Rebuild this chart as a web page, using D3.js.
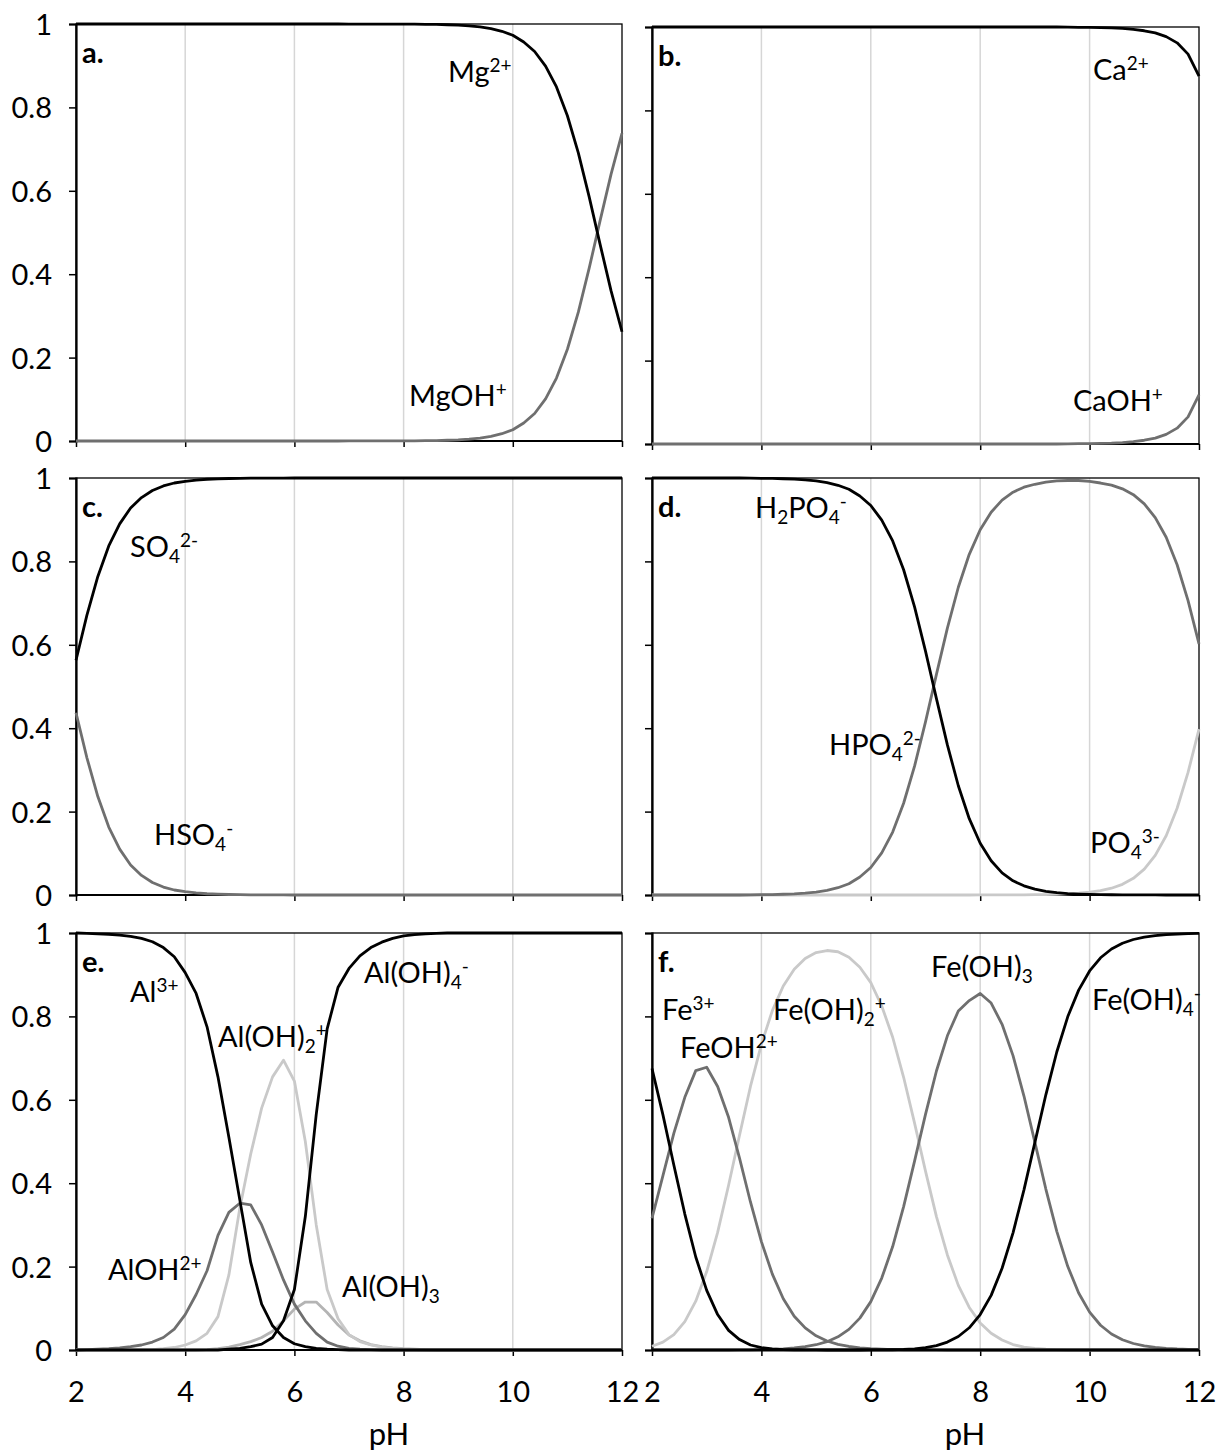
<!DOCTYPE html>
<html>
<head>
<meta charset="utf-8">
<script src="https://cdn.jsdelivr.net/npm/d3@7"></script>
<style>
  body { margin: 0; background: #fff; }
  text { font-family: Lato, "Open Sans", sans-serif; fill: #000; }
</style>
</head>
<body>
<script>
const WIDTH = 1217;
const HEIGHT = 1452;

// pH grid shared by every panel
const PH = [2, 2.2, 2.4, 2.6, 2.8, 3, 3.2, 3.4, 3.6, 3.8,
            4, 4.2, 4.4, 4.6, 4.8, 5, 5.2, 5.4, 5.6, 5.8,
            6, 6.2, 6.4, 6.6, 6.8, 7, 7.2, 7.4, 7.6, 7.8,
            8, 8.2, 8.4, 8.6, 8.8, 9, 9.2, 9.4, 9.6, 9.8,
            10, 10.2, 10.4, 10.6, 10.8, 11, 11.2, 11.4, 11.6, 11.8, 12];

const Y_TICKS = [0, 0.2, 0.4, 0.6, 0.8, 1];
const X_TICKS = [2, 4, 6, 8, 10, 12];
const GRID_X = [4, 6, 8, 10];

// a. magnesium
const MG = [1, 1, 1, 1, 1, 1, 1, 1, 1, 1,
            1, 1, 1, 1, 1, 1, 1, 1, 1, 1,
            1, 1, 1, 1, 1, 0.9999, 0.9999, 0.9999, 0.9999, 0.9998,
            0.9997, 0.9996, 0.9993, 0.9989, 0.9982, 0.9972, 0.9955, 0.993, 0.989, 0.9825,
            0.973, 0.957, 0.934, 0.899, 0.849, 0.78, 0.691, 0.585, 0.471, 0.36, 0.262];
const MGOH = [0, 0, 0, 0, 0, 0, 0, 0, 0, 0,
              0, 0, 0, 0, 0, 0, 0, 0, 0, 0,
              0, 0, 0, 0, 0, 0.0001, 0.0001, 0.0001, 0.0001, 0.0002,
              0.0003, 0.0004, 0.0007, 0.0011, 0.0018, 0.0028, 0.0045, 0.007, 0.011, 0.0175,
              0.027, 0.043, 0.066, 0.101, 0.151, 0.22, 0.309, 0.415, 0.529, 0.64, 0.738];

// b. calcium
const CA = [1, 1, 1, 1, 1, 1, 1, 1, 1, 1,
            1, 1, 1, 1, 1, 1, 1, 1, 1, 1,
            1, 1, 1, 1, 1, 1, 1, 1, 1, 1,
            1, 1, 1, 1, 1, 1, 1, 1, 0.9995, 0.9993,
            0.999, 0.9985, 0.9978, 0.9965, 0.9945, 0.991, 0.986, 0.977, 0.962, 0.935, 0.882];
const CAOH = [0, 0, 0, 0, 0, 0, 0, 0, 0, 0,
              0, 0, 0, 0, 0, 0, 0, 0, 0, 0,
              0, 0, 0, 0, 0, 0, 0, 0, 0, 0,
              0, 0, 0, 0, 0, 0, 0, 0, 0.0005, 0.0007,
              0.001, 0.0015, 0.0022, 0.0035, 0.0055, 0.009, 0.014, 0.023, 0.038, 0.065, 0.118];

// c. sulfate
const SO4 = [0.563, 0.671, 0.764, 0.837, 0.89, 0.928, 0.953, 0.97, 0.981, 0.988,
             0.992, 0.995, 0.997, 0.998, 0.9988, 0.9992, 0.9995, 0.9997, 0.9998, 0.9999,
             1, 1, 1, 1, 1, 1, 1, 1, 1, 1,
             1, 1, 1, 1, 1, 1, 1, 1, 1, 1,
             1, 1, 1, 1, 1, 1, 1, 1, 1, 1, 1];
const HSO4 = [0.437, 0.329, 0.236, 0.163, 0.11, 0.072, 0.047, 0.03, 0.019, 0.012,
              0.008, 0.005, 0.003, 0.002, 0.0012, 0.0008, 0.0005, 0.0003, 0.0002, 0.0001,
              0, 0, 0, 0, 0, 0, 0, 0, 0, 0,
              0, 0, 0, 0, 0, 0, 0, 0, 0, 0,
              0, 0, 0, 0, 0, 0, 0, 0, 0, 0, 0];

// d. phosphate
const H2PO4 = [1, 1, 1, 1, 1, 1, 1, 1, 1, 0.9999,
               0.9993, 0.9989, 0.9982, 0.9972, 0.9955, 0.993, 0.989, 0.9825, 0.973, 0.957,
               0.934, 0.899, 0.849, 0.78, 0.691, 0.585, 0.471, 0.36, 0.262, 0.183,
               0.124, 0.082, 0.053, 0.034, 0.022, 0.014, 0.0088, 0.0056, 0.0035, 0.0022,
               0.0014, 0.0009, 0.0006, 0.0004, 0.0002, 0.0001, 0.0001, 0, 0, 0, 0];
const HPO4 = [0, 0, 0, 0, 0, 0, 0, 0, 0, 0.0001,
              0.0007, 0.0011, 0.0018, 0.0028, 0.0045, 0.007, 0.011, 0.0175, 0.027, 0.043,
              0.066, 0.101, 0.151, 0.22, 0.309, 0.415, 0.529, 0.64, 0.738, 0.817,
              0.876, 0.918, 0.947, 0.966, 0.978, 0.985, 0.99, 0.993, 0.994, 0.994,
              0.992, 0.988, 0.983, 0.974, 0.96, 0.938, 0.905, 0.858, 0.792, 0.706, 0.602];
const PO4 = [0, 0, 0, 0, 0, 0, 0, 0, 0, 0,
             0, 0, 0, 0, 0, 0, 0, 0, 0, 0,
             0, 0, 0, 0, 0, 0, 0, 0, 0, 0,
             0.0001, 0.0002, 0.0003, 0.0004, 0.0005, 0.0007, 0.001, 0.0016, 0.0026, 0.0042,
             0.0066, 0.0104, 0.0163, 0.0256, 0.04, 0.062, 0.095, 0.142, 0.208, 0.294, 0.398];

// e. aluminium
const AL = [1, 0.999, 0.998, 0.997, 0.995, 0.992, 0.987, 0.979, 0.965, 0.943,
            0.905, 0.855, 0.775, 0.655, 0.51, 0.36, 0.21, 0.11, 0.058, 0.03,
            0.015, 0.008, 0.004, 0.002, 0.001, 0, 0, 0, 0, 0,
            0, 0, 0, 0, 0, 0, 0, 0, 0, 0,
            0, 0, 0, 0, 0, 0, 0, 0, 0, 0, 0];
const ALOH = [0, 0.001, 0.002, 0.003, 0.005, 0.008, 0.012, 0.019, 0.03, 0.05,
              0.085, 0.133, 0.19, 0.275, 0.33, 0.352, 0.348, 0.3, 0.235, 0.168,
              0.11, 0.07, 0.04, 0.019, 0.009, 0.004, 0.002, 0.001, 0, 0,
              0, 0, 0, 0, 0, 0, 0, 0, 0, 0,
              0, 0, 0, 0, 0, 0, 0, 0, 0, 0, 0];
const ALOH2 = [0, 0, 0, 0, 0, 0, 0, 0.001, 0.003, 0.006,
               0.012, 0.022, 0.04, 0.08, 0.18, 0.34, 0.47, 0.58, 0.655, 0.695,
               0.645, 0.5, 0.3, 0.145, 0.075, 0.037, 0.02, 0.012, 0.007, 0.004,
               0.002, 0.001, 0, 0, 0, 0, 0, 0, 0, 0,
               0, 0, 0, 0, 0, 0, 0, 0, 0, 0, 0];
const ALOH3 = [0, 0, 0, 0, 0, 0, 0, 0, 0, 0,
               0, 0, 0.001, 0.003, 0.007, 0.013, 0.02, 0.03, 0.045, 0.07,
               0.098, 0.115, 0.115, 0.09, 0.06, 0.036, 0.022, 0.013, 0.008, 0.005,
               0.003, 0.002, 0.001, 0, 0, 0, 0, 0, 0, 0,
               0, 0, 0, 0, 0, 0, 0, 0, 0, 0, 0];
const ALOH4 = [0, 0, 0, 0, 0, 0, 0, 0, 0, 0,
               0, 0, 0, 0, 0.002, 0.004, 0.008, 0.014, 0.03, 0.07,
               0.145, 0.32, 0.565, 0.77, 0.87, 0.915, 0.945, 0.965, 0.978, 0.987,
               0.993, 0.996, 0.998, 0.999, 1, 1, 1, 1, 1, 1,
               1, 1, 1, 1, 1, 1, 1, 1, 1, 1, 1];

// f. iron
const FE = [0.675, 0.564, 0.443, 0.326, 0.223, 0.143, 0.085, 0.047, 0.025, 0.012,
            0.0056, 0.0025, 0.001, 0.0004, 0.0002, 0.0001, 0, 0, 0, 0,
            0, 0, 0, 0, 0, 0, 0, 0, 0, 0,
            0, 0, 0, 0, 0, 0, 0, 0, 0, 0,
            0, 0, 0, 0, 0, 0, 0, 0, 0, 0, 0];
const FEOH = [0.316, 0.418, 0.52, 0.606, 0.67, 0.678, 0.632, 0.558, 0.46, 0.355,
              0.26, 0.182, 0.123, 0.081, 0.053, 0.034, 0.0215, 0.0135, 0.0084, 0.0052,
              0.0031, 0.0018, 0.001, 0.0006, 0.0003, 0.0002, 0.0001, 0, 0, 0,
              0, 0, 0, 0, 0, 0, 0, 0, 0, 0,
              0, 0, 0, 0, 0, 0, 0, 0, 0, 0, 0];
const FEOH2 = [0.009, 0.019, 0.037, 0.068, 0.117, 0.188, 0.282, 0.395, 0.515, 0.632,
               0.733, 0.814, 0.873, 0.913, 0.939, 0.953, 0.958, 0.955, 0.942, 0.918,
               0.881, 0.825, 0.75, 0.654, 0.544, 0.429, 0.32, 0.228, 0.155, 0.102,
               0.065, 0.04, 0.024, 0.013, 0.007, 0.004, 0.002, 0.001, 0, 0,
               0, 0, 0, 0, 0, 0, 0, 0, 0, 0, 0];
const FEOH3 = [0, 0, 0, 0, 0, 0, 0, 0, 0.0003, 0.0005,
               0.001, 0.0017, 0.0029, 0.0048, 0.0078, 0.0126, 0.02, 0.0316, 0.0495, 0.0764,
               0.116, 0.1725, 0.248, 0.344, 0.453, 0.565, 0.669, 0.7535, 0.813, 0.838,
               0.855, 0.832, 0.781, 0.706, 0.609, 0.498, 0.386, 0.2845, 0.2007, 0.1368,
               0.0909, 0.0594, 0.0383, 0.0245, 0.0156, 0.0099, 0.0063, 0.004, 0.0025, 0.0016, 0.001];
const FEOH4 = [0, 0, 0, 0, 0, 0, 0, 0, 0, 0,
               0, 0, 0, 0, 0, 0, 0, 0, 0, 0,
               0.0001, 0.0003, 0.0006, 0.0014, 0.0029, 0.0057, 0.0106, 0.019, 0.0324, 0.0533,
               0.085, 0.131, 0.196, 0.281, 0.384, 0.498, 0.612, 0.7146, 0.799, 0.863,
               0.909, 0.9406, 0.9617, 0.9755, 0.9844, 0.9901, 0.9937, 0.996, 0.9975, 0.9984, 0.999];

const BLACK = "#000000";
const DARK = "#6f6f6f";
const LIGHT = "#c9c9c9";
const MID = "#b4b4b4";

const FONT = 29;
const SMALL = 19;

const COLS = [{x0: 76, x1: 622}, {x0: 652, x1: 1199}];

// label parts: [text, "sup"|"sub"|undefined]
const panels = [
  {tag: "a.", col: 0, top: 24, bottom: 441,
   series: [[MGOH, DARK], [MG, BLACK]],
   labels: [
     {x: 448, y: 82, parts: [["Mg"], ["2+", "sup"]]},
     {x: 409, y: 406, parts: [["MgOH"], ["+", "sup"]]}
   ]},
  {tag: "b.", col: 1, top: 27, bottom: 444,
   series: [[CAOH, DARK], [CA, BLACK]],
   labels: [
     {x: 1093, y: 80, parts: [["Ca"], ["2+", "sup"]]},
     {x: 1073, y: 411, parts: [["CaOH"], ["+", "sup"]]}
   ]},
  {tag: "c.", col: 0, top: 478, bottom: 895,
   series: [[HSO4, DARK], [SO4, BLACK]],
   labels: [
     {x: 130, y: 557, parts: [["SO"], ["4", "sub"], ["2-", "sup"]]},
     {x: 154, y: 845, parts: [["HSO"], ["4", "sub"], ["-", "sup"]]}
   ]},
  {tag: "d.", col: 1, top: 478, bottom: 895,
   series: [[PO4, LIGHT], [HPO4, DARK], [H2PO4, BLACK]],
   labels: [
     {x: 755, y: 518, parts: [["H"], ["2", "sub"], ["PO"], ["4", "sub"], ["-", "sup"]]},
     {x: 829, y: 755, parts: [["HPO"], ["4", "sub"], ["2-", "sup"]]},
     {x: 1090, y: 853, parts: [["PO"], ["4", "sub"], ["3-", "sup"]]}
   ]},
  {tag: "e.", col: 0, top: 933, bottom: 1350,
   series: [[ALOH3, MID], [ALOH2, LIGHT], [ALOH, DARK], [AL, BLACK], [ALOH4, BLACK]],
   labels: [
     {x: 130, y: 1002, parts: [["Al"], ["3+", "sup"]]},
     {x: 364, y: 983, parts: [["Al(OH)"], ["4", "sub"], ["-", "sup"]]},
     {x: 218, y: 1047, parts: [["Al(OH)"], ["2", "sub"], ["+", "sup"]]},
     {x: 108, y: 1280, parts: [["AlOH"], ["2+", "sup"]]},
     {x: 342, y: 1297, parts: [["Al(OH)"], ["3", "sub"]]}
   ]},
  {tag: "f.", col: 1, top: 933, bottom: 1350,
   series: [[FEOH2, LIGHT], [FEOH3, DARK], [FEOH, DARK], [FE, BLACK], [FEOH4, BLACK]],
   labels: [
     {x: 662, y: 1020, parts: [["Fe"], ["3+", "sup"]]},
     {x: 680, y: 1058, parts: [["FeOH"], ["2+", "sup"]]},
     {x: 773, y: 1020, parts: [["Fe(OH)"], ["2", "sub"], ["+", "sup"]]},
     {x: 931, y: 977, parts: [["Fe(OH)"], ["3", "sub"]]},
     {x: 1092, y: 1010, parts: [["Fe(OH)"], ["4", "sub"], ["-", "sup"]]}
   ]}
];

const svg = d3.select("body").append("svg")
  .attr("width", WIDTH)
  .attr("height", HEIGHT);

panels.forEach(function(p) {
  const col = COLS[p.col];
  const x = d3.scaleLinear().domain([2, 12]).range([col.x0, col.x1]);
  const y = d3.scaleLinear().domain([0, 1]).range([p.bottom, p.top]);
  const g = svg.append("g");

  // vertical gridlines
  g.selectAll(".grid").data(GRID_X).enter().append("line")
    .attr("x1", d => x(d)).attr("x2", d => x(d))
    .attr("y1", p.top).attr("y2", p.bottom)
    .attr("stroke", "#d6d6d6").attr("stroke-width", 1.5);

  // frame
  g.append("rect")
    .attr("x", col.x0).attr("y", p.top)
    .attr("width", col.x1 - col.x0).attr("height", p.bottom - p.top)
    .attr("fill", "none").attr("stroke", "#000").attr("stroke-width", 1.3);

  // left axis with outward ticks
  const yAxis = d3.axisLeft(y).tickValues(Y_TICKS).tickSize(7)
    .tickFormat(p.col === 0 ? d3.format("") : "");
  const ya = g.append("g").attr("transform", "translate(" + col.x0 + ",0)").call(yAxis);
  ya.select(".domain").attr("stroke-width", 2.2);
  ya.selectAll(".tick line").attr("stroke-width", 1.5);
  ya.selectAll(".tick text")
    .attr("font-size", FONT).attr("x", -24).attr("dy", "0.36em")
    .style("font-family", "Lato, sans-serif");

  // bottom axis, labels only on the last row
  const xAxis = d3.axisBottom(x).tickValues(X_TICKS).tickSize(6)
    .tickFormat(p.bottom > 1300 ? d3.format("") : "");
  const xa = g.append("g").attr("transform", "translate(0," + p.bottom + ")").call(xAxis);
  xa.select(".domain").attr("stroke-width", 2).attr("d", "M" + col.x0 + ",0H" + col.x1);
  xa.selectAll(".tick line").attr("stroke-width", 1.5);
  xa.selectAll(".tick text")
    .attr("font-size", FONT).attr("y", 52).attr("dy", 0)
    .style("font-family", "Lato, sans-serif");

  // curves
  const line = d3.line()
    .x((d, i) => x(PH[i]))
    .y(d => y(d));
  p.series.forEach(function(s) {
    g.append("path")
      .attr("d", line(s[0]))
      .attr("fill", "none")
      .attr("stroke", s[1])
      .attr("stroke-width", 2.8)
      .attr("stroke-linejoin", "round");
  });

  // panel tag
  g.append("text")
    .attr("x", col.x0 + 6).attr("y", p.top + 39)
    .attr("font-size", FONT).attr("font-weight", "bold")
    .text(p.tag);

  // species labels
  p.labels.forEach(function(l) {
    const t = g.append("text").attr("x", l.x).attr("y", l.y).attr("font-size", FONT);
    var shift = 0;
    l.parts.forEach(function(part) {
      var target = 0;
      if (part[1] === "sup") target = -10;
      if (part[1] === "sub") target = 6;
      t.append("tspan")
        .attr("dy", target - shift)
        .attr("font-size", part[1] ? SMALL : FONT)
        .text(part[0]);
      shift = target;
    });
  });
});

// x axis titles
[389, 965].forEach(function(cx) {
  svg.append("text")
    .attr("x", cx).attr("y", 1445)
    .attr("text-anchor", "middle")
    .attr("font-size", 31)
    .text("pH");
});
</script>
</body>
</html>
